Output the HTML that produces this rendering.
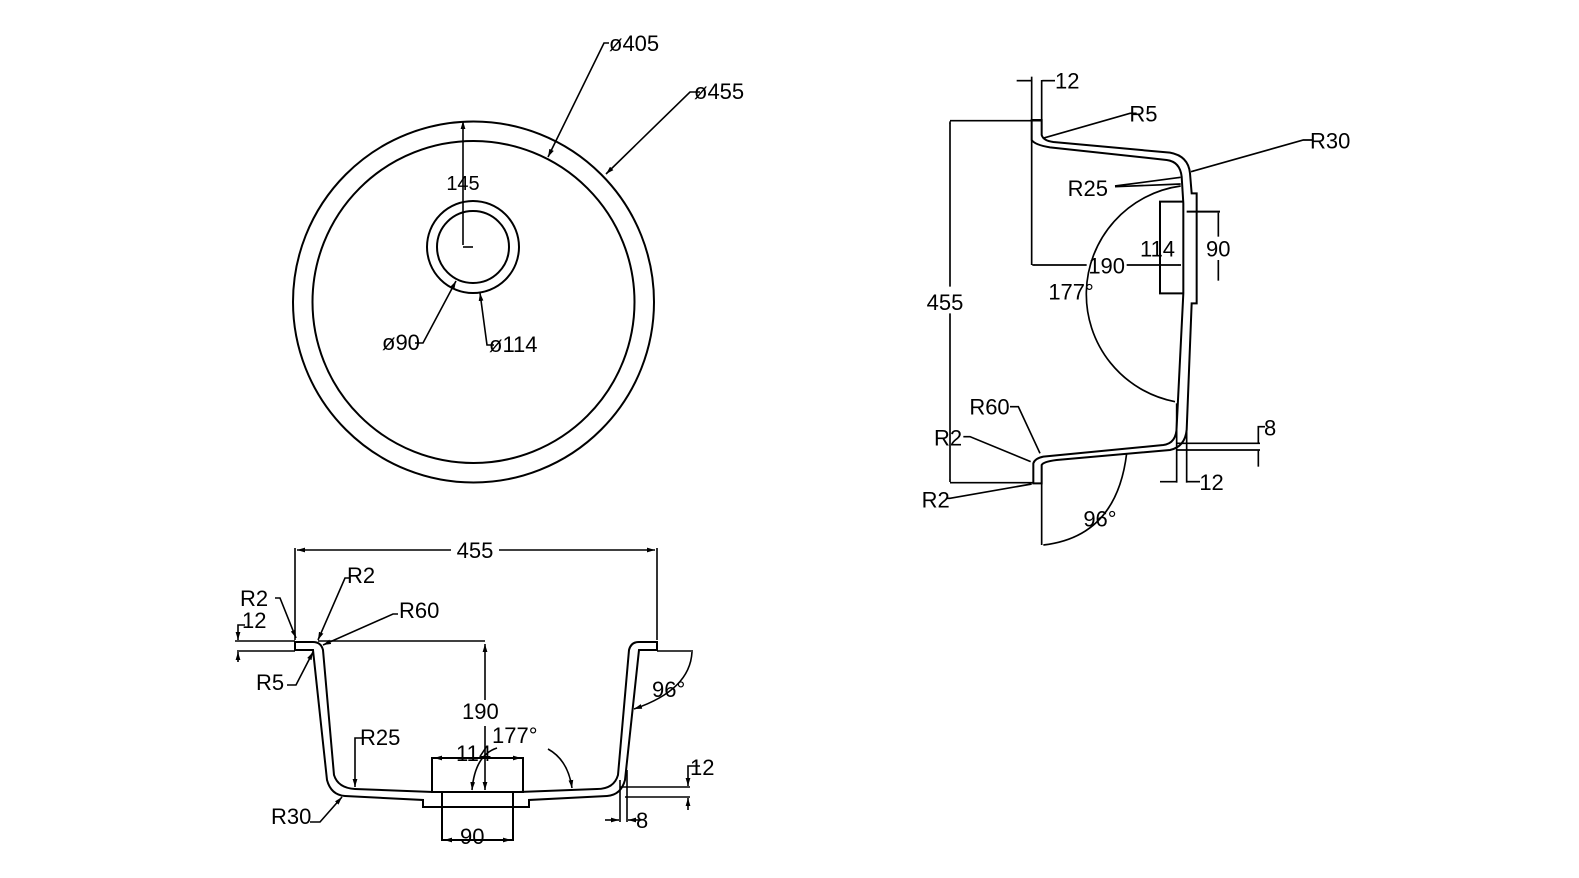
<!DOCTYPE html>
<html><head><meta charset="utf-8"><style>
html,body{margin:0;padding:0;background:#fff;}
svg{display:block;}
text{font-family:"Liberation Sans","DejaVu Sans",sans-serif;fill:#000;}
</style></head><body>
<svg width="1579" height="878" viewBox="0 0 1579 878" xmlns="http://www.w3.org/2000/svg">
<defs>
<marker id="a" viewBox="0 0 10 6" refX="10" refY="3" markerWidth="8" markerHeight="5" orient="auto-start-reverse" markerUnits="userSpaceOnUse"><path d="M0,0 L10,3 L0,6 z" fill="#000"/></marker>
</defs>
<g fill="none" stroke="#000" stroke-width="2">
<circle cx="473.5" cy="302" r="180.5"/>
<circle cx="473.5" cy="302" r="161"/>
<circle cx="473" cy="247" r="46"/>
<circle cx="473" cy="247" r="36"/>
<line x1="463" y1="245" x2="463" y2="121" marker-end="url(#a)" stroke-width="1.6"/>
<polyline points="463,247 473,247" stroke-width="1.6"/>
<polyline points="609,43 604,43 548,157" marker-end="url(#a)" stroke-width="1.6"/>
<polyline points="700,92 690,92 606,174" marker-end="url(#a)" stroke-width="1.6"/>
<polyline points="415,343 423,343 456,281" marker-end="url(#a)" stroke-width="1.6"/>
<polyline points="494,345 487,345 480,293" marker-end="url(#a)" stroke-width="1.6"/>
</g>
<text x="463" y="190" font-size="20" text-anchor="middle">145</text>
<text x="609" y="51" font-size="22">ø405</text>
<text x="694" y="99" font-size="22">ø455</text>
<text x="382" y="350" font-size="22">ø90</text>
<text x="489" y="352" font-size="22">ø114</text>

<g fill="none" stroke="#000" stroke-width="2">
<path d="M295,650 L313,650 L327,780 Q331,795 345,796 L423,800 L423,807 L529,807 L529,800 L607,796 Q621,795 625,780 L639,650 L657,650 L657,642 L639,642 Q631,642 629,650 L618,775 Q614,789 597,789 L519,792 L433,792 L355,789 Q338,788 334,775 L323,650 Q321,642 313,642 L295,642 Z"/>
<rect x="432" y="758" width="91" height="34"/>
<polyline points="442,793 442,840 513,840 513,793"/>
</g>
<g fill="none" stroke="#000" stroke-width="1.6">
<line x1="295" y1="640" x2="295" y2="548"/><line x1="657" y1="640" x2="657" y2="548"/>
<line x1="297" y1="550" x2="451" y2="550" marker-start="url(#a)"/><line x1="499" y1="550" x2="655" y2="550" marker-end="url(#a)"/>
<line x1="318" y1="641" x2="485" y2="641"/><line x1="485" y1="644" x2="485" y2="700" marker-start="url(#a)"/><line x1="485" y1="726" x2="485" y2="790" marker-end="url(#a)"/>
<line x1="235" y1="641" x2="295" y2="641"/><line x1="237" y1="651" x2="295" y2="651"/>
<polyline points="245,625 238,625 238,640" marker-end="url(#a)"/><line x1="238" y1="662" x2="238" y2="652" marker-end="url(#a)"/>
<polyline points="275,598 280,598 296,638" marker-end="url(#a)"/>
<polyline points="350,578 345,578 318,640" marker-end="url(#a)"/>
<polyline points="398,614 393,614 323,645" marker-end="url(#a)"/>
<polyline points="287,685 296,685 313,652" marker-end="url(#a)"/>
<polyline points="362,738 355,738 355,787" marker-end="url(#a)"/>
<polyline points="310,822 320,822 342,797" marker-end="url(#a)"/>
<line x1="657" y1="651" x2="693" y2="651"/>
<path d="M692,652 Q690,690 634,709" marker-end="url(#a)"/>
<line x1="434" y1="758" x2="462" y2="758" marker-start="url(#a)"/><line x1="490" y1="758" x2="521" y2="758" marker-end="url(#a)"/>
<line x1="444" y1="840" x2="460" y2="840" marker-start="url(#a)"/><line x1="490" y1="840" x2="511" y2="840" marker-end="url(#a)"/>
<path d="M497,748 Q475,755 472,790" marker-end="url(#a)"/>
<path d="M548,749 Q568,760 572,788" marker-end="url(#a)"/>
<line x1="620" y1="787" x2="690" y2="787"/><line x1="625" y1="797" x2="690" y2="797"/>
<polyline points="700,766 688,766 688,786" marker-end="url(#a)"/><line x1="688" y1="810" x2="688" y2="798" marker-end="url(#a)"/>
<line x1="620" y1="780" x2="620" y2="822"/><line x1="627" y1="770" x2="627" y2="822"/>
<line x1="605" y1="820" x2="619" y2="820" marker-end="url(#a)"/><line x1="640" y1="820" x2="628" y2="820" marker-end="url(#a)"/>
</g>
<g font-size="22">
<text x="475" y="558" text-anchor="middle">455</text>
<text x="240" y="606">R2</text>
<text x="347" y="583">R2</text>
<text x="399" y="618">R60</text>
<text x="242" y="628">12</text>
<text x="256" y="690">R5</text>
<text x="462" y="719">190</text>
<text x="360" y="745">R25</text>
<text x="492" y="743">177°</text>
<text x="456" y="761">114</text>
<text x="652" y="697">96°</text>
<text x="271" y="824">R30</text>
<text x="460" y="844">90</text>
<text x="690" y="775">12</text>
<text x="636" y="828">8</text>
</g>

<g transform="translate(910,60) scale(0.33333)">
<g fill="none" stroke="#000" stroke-width="6">
<path d="M395,180 L395,225 Q400,242 430,246 L780,278 Q835,288 840,340 L845,400 L860,400 L860,730 L845,730 L830,1110 Q825,1160 780,1170 L440,1200 Q400,1205 395,1215 L395,1270 L370,1270 L370,1210 Q375,1195 400,1190 L760,1155 Q800,1150 800,1100 L820,700 L820,430 L815,350 Q810,305 770,300 L420,262 Q375,255 365,240 L365,180 Z"/>
<polyline points="820,425 750,425 750,700 820,700"/>
<polyline points="830,455 930,455 M830,665 930,665"/>
</g>
<g fill="none" stroke="#000" stroke-width="5">
<line x1="365" y1="50" x2="365" y2="180"/><line x1="395" y1="60" x2="395" y2="180"/>
<line x1="320" y1="62" x2="363" y2="62" marker-end="url(#a)"/><line x1="435" y1="62" x2="397" y2="62" marker-end="url(#a)"/>
<line x1="120" y1="182" x2="395" y2="182"/><line x1="120" y1="1268" x2="370" y2="1268"/>
<line x1="120" y1="680" x2="120" y2="184" marker-end="url(#a)"/><line x1="120" y1="760" x2="120" y2="1266" marker-end="url(#a)"/>
<line x1="365" y1="240" x2="365" y2="615"/>
<line x1="530" y1="615" x2="367" y2="615" marker-end="url(#a)"/><line x1="650" y1="615" x2="813" y2="615" marker-end="url(#a)"/>
<line x1="750" y1="540" x2="750" y2="428" marker-end="url(#a)"/><line x1="750" y1="600" x2="750" y2="697" marker-end="url(#a)"/>
<line x1="925" y1="530" x2="925" y2="458" marker-end="url(#a)"/><line x1="925" y1="600" x2="925" y2="662" marker-end="url(#a)"/>
<polyline points="680,160 660,160 398,235" marker-end="url(#a)"/>
<polyline points="1210,240 1180,240 843,335" marker-end="url(#a)"/>
<line x1="615" y1="378" x2="812" y2="352" marker-end="url(#a)"/>
<line x1="615" y1="380" x2="812" y2="372" marker-end="url(#a)"/>
<path d="M812,378 A328,328 0 0 0 795,1025" marker-end="url(#a)" marker-start="url(#a)"/>
<polyline points="300,1040 325,1040 390,1180" marker-end="url(#a)"/>
<polyline points="160,1130 180,1130 362,1205" marker-end="url(#a)"/>
<polyline points="110,1315 120,1315 365,1272" marker-end="url(#a)"/>
<line x1="395" y1="1270" x2="395" y2="1455"/>
<path d="M400,1455 Q620,1430 650,1180" marker-end="url(#a)" marker-start="url(#a)"/>
<line x1="800" y1="1150" x2="1050" y2="1150"/><line x1="800" y1="1170" x2="1050" y2="1170"/>
<polyline points="1065,1100 1045,1100 1045,1148" marker-end="url(#a)"/><line x1="1045" y1="1220" x2="1045" y2="1172" marker-end="url(#a)"/>
<line x1="800" y1="1030" x2="800" y2="1268"/><line x1="830" y1="1110" x2="830" y2="1268"/>
<line x1="750" y1="1265" x2="798" y2="1265" marker-end="url(#a)"/><line x1="870" y1="1265" x2="832" y2="1265" marker-end="url(#a)"/>
</g>
<g font-size="66">
<text x="435" y="85">12</text>
<text x="658" y="185">R5</text>
<text x="1200" y="265">R30</text>
<text x="473" y="408">R25</text>
<text x="535" y="640">190</text>
<text x="690" y="590">114</text>
<text x="888" y="590">90</text>
<text x="415" y="718">177°</text>
<text x="50" y="750">455</text>
<text x="178" y="1063">R60</text>
<text x="72" y="1157">R2</text>
<text x="35" y="1342">R2</text>
<text x="520" y="1400">96°</text>
<text x="1062" y="1127">8</text>
<text x="868" y="1290">12</text>
</g>
</g>
</svg>
</body></html>
